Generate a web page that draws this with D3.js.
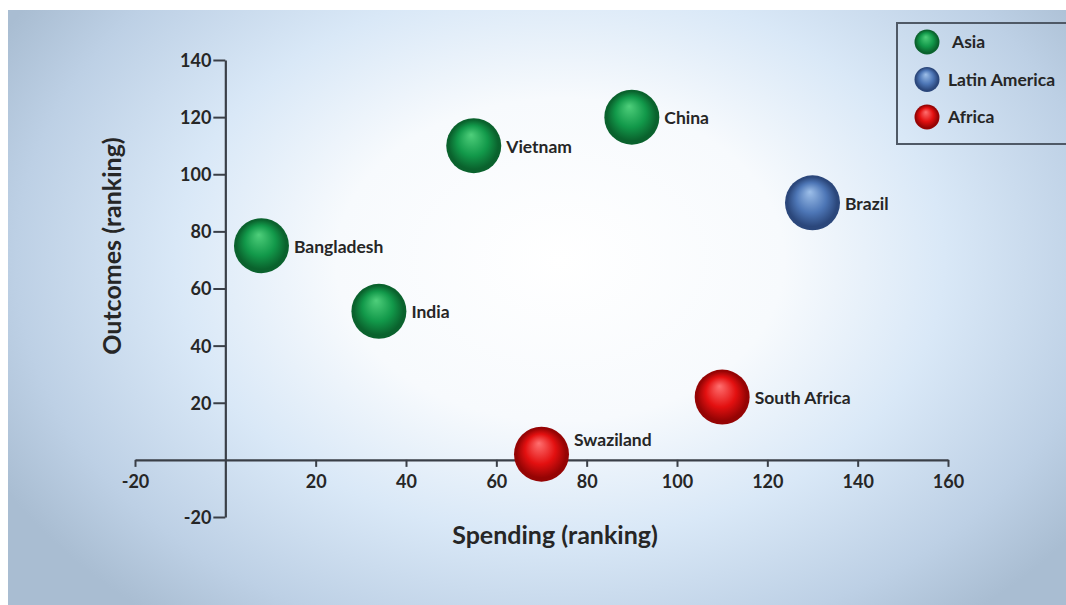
<!DOCTYPE html>
<html>
<head>
<meta charset="utf-8">
<script src="https://cdn.jsdelivr.net/npm/d3@7"></script>
<style>
  html, body { margin: 0; padding: 0; background: #ffffff; }
  svg { display: block; }
  text { font-family: Lato, "Open Sans", sans-serif; font-weight: 700; fill: #262626; }
</style>
</head>
<body>
<svg id="chart" width="1066" height="605"></svg>
<script>
// Country data: spending rank (x), outcome rank (y), region
const countries = ["Bangladesh", "India", "Vietnam", "China", "Brazil", "South Africa", "Swaziland"];
const spending  = [8, 34, 55, 90, 130, 110, 70];
const outcomes  = [75, 52, 110, 120, 90, 22, 2];
const regionOf  = ["Asia", "Asia", "Asia", "Asia", "Latin America", "Africa", "Africa"];

const regions = ["Asia", "Latin America", "Africa"];
const xTicks = [-20, 20, 40, 60, 80, 100, 120, 140, 160];
const yTicks = [-20, 20, 40, 60, 80, 100, 120, 140];

// Sphere shading per region: highlight, body, rim
const shades = {
  "Asia":          ["#4fcf7b", "#12994a", "#0a622d"],
  "Latin America": ["#9dbfe9", "#4d76b6", "#2b477b"],
  "Africa":        ["#ff7070", "#e31010", "#950404"]
};

const svg = d3.select("#chart");
const W = 1066, H = 605;
const defs = svg.append("defs");

// Slide background: bright centre fading to pale blue-grey edges
const bg = defs.append("radialGradient").attr("id", "bg")
  .attr("gradientUnits", "userSpaceOnUse")
  .attr("cx", 560).attr("cy", 260).attr("r", 640)
  .attr("gradientTransform", "translate(560,260) scale(1,0.72) translate(-560,-260)");
bg.append("stop").attr("offset", "0%").attr("stop-color", "#ffffff");
bg.append("stop").attr("offset", "35%").attr("stop-color", "#f7fafd");
bg.append("stop").attr("offset", "60%").attr("stop-color", "#d9e8f7");
bg.append("stop").attr("offset", "85%").attr("stop-color", "#bdd0e5");
bg.append("stop").attr("offset", "100%").attr("stop-color", "#a9bdd2");

regions.forEach((r, i) => {
  const g = defs.append("radialGradient").attr("id", "sph" + i)
    .attr("cx", "50%").attr("cy", "50%").attr("r", "50%")
    .attr("fx", "45%").attr("fy", "30%");
  g.append("stop").attr("offset", "0%").attr("stop-color", shades[r][0]);
  g.append("stop").attr("offset", "55%").attr("stop-color", shades[r][1]);
  g.append("stop").attr("offset", "90%").attr("stop-color", shades[r][2]);
  g.append("stop").attr("offset", "100%").attr("stop-color", shades[r][2]);
});

svg.append("rect").attr("x", 8).attr("y", 10).attr("width", W - 8).attr("height", H - 10)
  .attr("fill", "url(#bg)");

const x = d3.scaleLinear().domain([-20, 160]).range([135, 948]);
const y = d3.scaleLinear().domain([-20, 140]).range([517, 60]);

// Axes crossing at the origin; plain hyphen for negative labels
const fmt = d => String(d);
const xAxis = d3.axisBottom(x).tickValues(xTicks).tickFormat(fmt).tickSize(7).tickPadding(6).tickSizeOuter(0);
const yAxis = d3.axisLeft(y).tickValues(yTicks).tickFormat(fmt).tickSize(12).tickPadding(2).tickSizeOuter(0);

const gx = svg.append("g").attr("transform", `translate(0,${y(0)})`).call(xAxis);
const gy = svg.append("g").attr("transform", `translate(${x(0)},0)`).call(yAxis);
[gx, gy].forEach(g => {
  g.select(".domain").attr("stroke", "#3a3f47").attr("stroke-width", 2.2);
  g.selectAll(".tick line").attr("stroke", "#3a3f47").attr("stroke-width", 2);
  g.selectAll(".tick text").style("font-size", "18px").style("font-family", "Lato, sans-serif")
    .style("font-weight", 700).attr("fill", "#262626");
});
gx.selectAll(".tick text").attr("dy", "0.85em");
gy.selectAll(".tick text").attr("dy", "0.36em");

// Bubbles
const R = 27.5;
const pts = countries.map((c, i) => ({ c, sx: spending[i], oy: outcomes[i], reg: regionOf[i] }));
svg.append("g").selectAll("circle").data(pts).join("circle")
  .attr("cx", d => x(d.sx)).attr("cy", d => y(d.oy)).attr("r", R)
  .attr("fill", d => `url(#sph${regions.indexOf(d.reg)})`);

svg.append("g").selectAll("text").data(pts).join("text")
  .attr("x", d => x(d.sx) + R + 5)
  .attr("y", d => d.c === "Swaziland" ? y(d.oy) - 14 : y(d.oy) + 1)
  .attr("dy", "0.35em")
  .style("font-size", "17.5px")
  .text(d => d.c);

// Axis titles
svg.append("text").attr("x", 555).attr("y", 544).attr("text-anchor", "middle")
  .style("font-size", "25px").text("Spending (ranking)");
svg.append("text").attr("transform", "translate(121,246) rotate(-90)").attr("text-anchor", "middle")
  .style("font-size", "25px").text("Outcomes (ranking)");

// Legend
const lg = svg.append("g");
lg.append("rect").attr("x", 897).attr("y", 23).attr("width", 180).attr("height", 121)
  .attr("fill", "none").attr("stroke", "#4f5966").attr("stroke-width", 2);
regions.forEach((r, i) => {
  const cy = 42 + i * 37.5;
  lg.append("circle").attr("cx", 927).attr("cy", cy).attr("r", 12.5)
    .attr("fill", `url(#sph${i})`);
  lg.append("text").attr("x", r === "Asia" ? 952 : 948).attr("y", cy).attr("dy", "0.35em")
    .style("font-size", "17.5px").text(r);
});
</script>
</body>
</html>
